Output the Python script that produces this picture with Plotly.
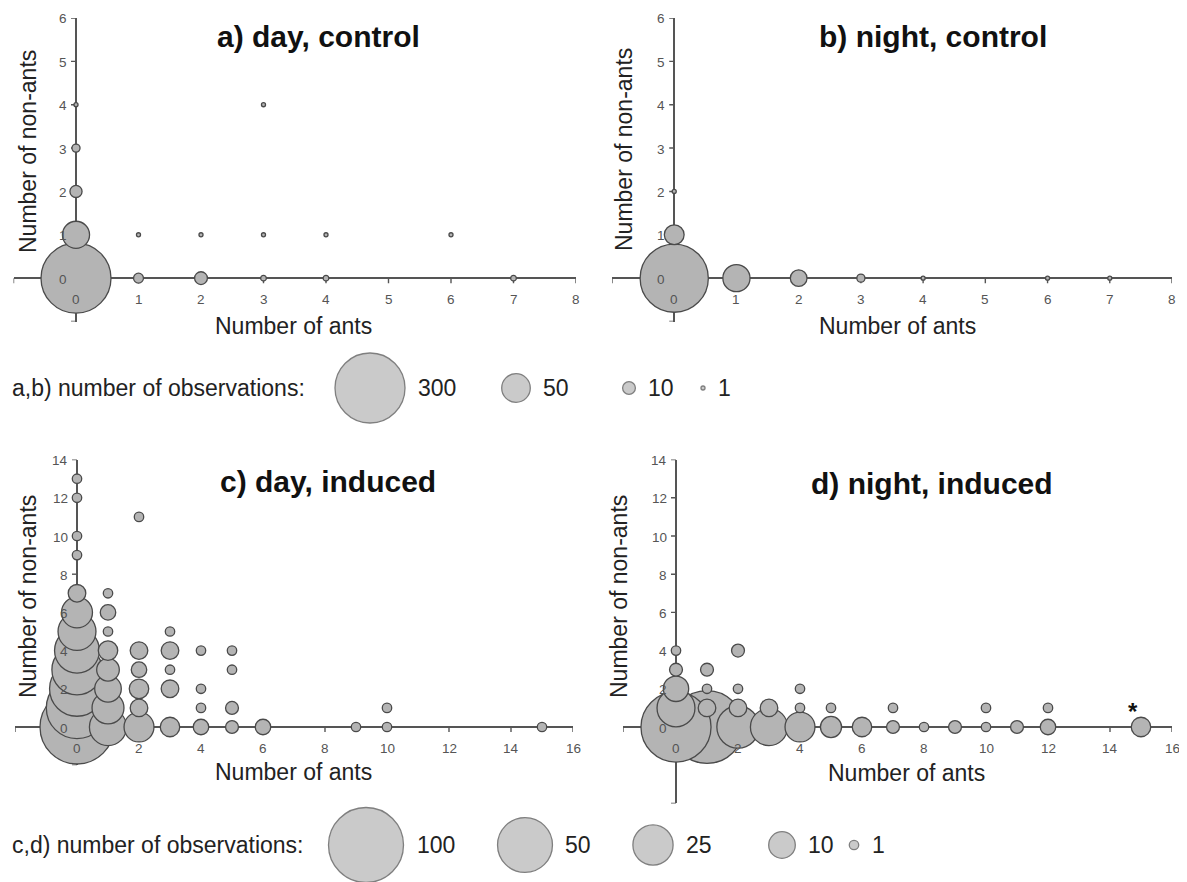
import plotly.graph_objects as go

SCREEN_W, SCREEN_H = 1187, 882
OFF = 8                      # default page body margin of the html page
W, H = SCREEN_W - OFF, SCREEN_H - OFF

# ---------------- data (ants, non-ants, number of observations) ----------------
A_ANTS    = [0, 0, 0, 0, 0, 1, 2, 3, 4, 7, 1, 2, 3, 4, 6, 3]
A_NONANTS = [0, 1, 2, 3, 4, 0, 0, 0, 0, 0, 1, 1, 1, 1, 1, 4]
A_OBS     = [300, 45, 9, 4, 1, 6, 10, 2, 2, 2, 1, 1, 1, 1, 1, 1]

B_ANTS    = [0, 0, 0, 1, 2, 3, 4, 6, 7]
B_NONANTS = [0, 1, 2, 0, 0, 0, 0, 0, 0]
B_OBS     = [285, 24, 1, 45, 17, 4, 1, 1, 1]

C_ANTS    = [0, 0, 0, 0, 0, 0, 0, 0, 0, 0, 0, 0,
             1, 1, 1, 1, 1, 1, 1, 1,
             2, 2, 2, 2, 2, 2,
             3, 3, 3, 3, 3,
             4, 4, 4, 4,
             5, 5, 5, 5,
             6, 9, 10, 10, 15]
C_NONANTS = [0, 1, 2, 3, 4, 5, 6, 7, 9, 10, 12, 13,
             0, 1, 2, 3, 4, 5, 6, 7,
             0, 1, 2, 3, 4, 11,
             0, 2, 3, 4, 5,
             0, 1, 2, 4,
             0, 1, 3, 4,
             0, 0, 0, 1, 0]
C_OBS     = [97, 64, 50, 41, 32, 22, 14, 4, 1, 1, 1, 1,
             21, 15, 10, 7, 5, 1, 3, 1,
             13, 4, 5, 3, 4, 1,
             5, 4, 1, 4, 1,
             3, 1, 1, 1,
             2, 2, 1, 1,
             3, 1, 1, 1, 1]

D_ANTS    = [0, 0, 0, 0, 0, 1, 1, 1, 1, 2, 2, 2, 2, 3, 3, 4, 4, 4, 5, 5,
             6, 7, 7, 8, 9, 10, 10, 11, 12, 12, 15]
D_NONANTS = [0, 1, 2, 3, 4, 0, 1, 2, 3, 0, 1, 2, 4, 0, 1, 0, 1, 2, 0, 1,
             0, 0, 1, 0, 0, 0, 1, 0, 0, 1, 0]
D_OBS     = [86, 22, 9, 2, 1, 94, 4, 1, 2, 28, 4, 1, 2, 21, 4, 13, 1, 1, 6, 1,
             5, 2, 1, 1, 2, 1, 1, 2, 3, 1, 5]

AB_XTICKS = [0, 1, 2, 3, 4, 5, 6, 7, 8]
AB_YTICKS = [0, 1, 2, 3, 4, 5, 6]
CD_XTICKS = [0, 2, 4, 6, 8, 10, 12, 14, 16]
CD_YTICKS = [0, 2, 4, 6, 8, 10, 12, 14]

LEG_AB_VALUES = [300, 50, 10, 1]
LEG_CD_VALUES = [100, 50, 25, 10, 1]

TITLES = ["a) day, control", "b) night, control", "c) day, induced", "d) night, induced"]
XTITLE = "Number of ants"
YTITLE = "Number of non-ants"
LEG_AB_TEXT = "a,b) number of observations:"
LEG_CD_TEXT = "c,d) number of observations:"

# ---------------- styling / layout ----------------
FILL = "#b4b4b4"
EDGE = "#4a4a4a"
AXC = "#555555"
FONT = "Arial, Liberation Sans, sans-serif"


def size_ab(vals):
    return [70.0 * (v / 300.0) ** 0.5 for v in vals]


def size_cd(vals):
    return [75.0 * (v / 100.0) ** 0.45 for v in vals]


def px(sx):      # screen x -> figure x (pixels)
    return sx - OFF


def py(sy):      # screen y -> figure y (pixels)
    return sy - OFF


# panel geometry in screen pixels: x-left, x-right, y-top, y-bottom, ranges
PANELS = [
    dict(xs=(13.5, 576), ys=(18, 321.5), xr=(-1, 8), yr=(-1, 6)),
    dict(xs=(612, 1172), ys=(18, 321.5), xr=(-1, 8), yr=(-1, 6)),
    dict(xs=(15, 573), ys=(459.6, 765.2), xr=(-2, 16), yr=(-2, 14)),
    dict(xs=(623.3, 1172), ys=(459.6, 803.4), xr=(-1.7, 16), yr=(-4, 14)),
]
TITLE_POS = [(318, 37), (933, 37), (328, 481), (932, 483)]
XTITLE_POS = [(293, 326), (897, 326), (293, 772), (906, 773)]
YTITLE_POS = [(28, 152), (624, 150), (28, 597), (619, 597)]

data_sets = [
    (A_ANTS, A_NONANTS, A_OBS, size_ab, AB_XTICKS, AB_YTICKS),
    (B_ANTS, B_NONANTS, B_OBS, size_ab, AB_XTICKS, AB_YTICKS),
    (C_ANTS, C_NONANTS, C_OBS, size_cd, CD_XTICKS, CD_YTICKS),
    (D_ANTS, D_NONANTS, D_OBS, size_cd, CD_XTICKS, CD_YTICKS),
]

fig = go.Figure()
layout = dict(width=W, height=H, margin=dict(l=0, r=0, t=0, b=0), autosize=False,
              paper_bgcolor="white", plot_bgcolor="rgba(0,0,0,0)", showlegend=False,
              font=dict(family=FONT))
annotations = []
shapes = []


def paper(sx, sy):
    return px(sx) / W, 1 - py(sy) / H


TICKFONT = dict(size=13.5, color="#555", family=FONT)

for i, (p, ds) in enumerate(zip(PANELS, data_sets)):
    n = i + 1
    xa = "xaxis" if n == 1 else f"xaxis{n}"
    ya = "yaxis" if n == 1 else f"yaxis{n}"
    xr_ = "x" if n == 1 else f"x{n}"
    yr_ = "y" if n == 1 else f"y{n}"
    x0d, y1d = paper(p["xs"][0], p["ys"][0])
    x1d, y0d = paper(p["xs"][1], p["ys"][1])
    layout[xa] = dict(domain=[x0d, x1d], range=list(p["xr"]),
                      anchor=yr_, showgrid=False, showticklabels=False, ticks="",
                      showline=False, zeroline=True, zerolinecolor=AXC, zerolinewidth=1.6,
                      fixedrange=True)
    layout[ya] = dict(domain=[y0d, y1d], range=list(p["yr"]),
                      anchor=xr_, showgrid=False, showticklabels=False, ticks="",
                      showline=False, zeroline=True, zerolinecolor=AXC, zerolinewidth=1.6,
                      fixedrange=True)

    xs, ys, obs, sfun, xt, yt = ds
    order = sorted(range(len(obs)), key=lambda k: -obs[k])
    fig.add_trace(go.Scatter(
        x=[xs[k] for k in order], y=[ys[k] for k in order], mode="markers",
        xaxis=xr_, yaxis=yr_, cliponaxis=False, hoverinfo="skip",
        marker=dict(size=sfun([obs[k] for k in order]), sizemode="diameter",
                    color=FILL, line=dict(color=EDGE, width=1.3), opacity=1),
    ))

    # tick marks (including axis ends), drawn beneath the bubbles
    xmarks = ([p["xr"][0]] if p["xr"][0] not in xt else []) + xt
    ymarks = ([p["yr"][0]] if p["yr"][0] not in yt else []) + yt
    for t in xmarks:
        shapes.append(dict(type="line", xref=xr_, yref=yr_, ysizemode="pixel", yanchor=0,
                           x0=t, x1=t, y0=0, y1=-5, layer="below",
                           line=dict(color=AXC, width=1.4)))
    for t in ymarks:
        shapes.append(dict(type="line", xref=xr_, yref=yr_, xsizemode="pixel", xanchor=0,
                           y0=t, y1=t, x0=-5, x1=0, layer="below",
                           line=dict(color=AXC, width=1.4)))
    # tick labels
    for t in xt:
        annotations.append(dict(xref=xr_, yref=yr_, x=t, y=0, yshift=-21, text=str(t),
                                showarrow=False, borderpad=0, font=TICKFONT))
    for t in yt:
        annotations.append(dict(xref=xr_, yref=yr_, x=0, y=t, xshift=-8, yshift=-1,
                                xanchor="right", borderpad=0,
                                text=str(t), showarrow=False, font=TICKFONT))
    # titles
    tx, ty = paper(*TITLE_POS[i])
    annotations.append(dict(xref="paper", yref="paper", x=tx, y=ty,
                            text=f"<b>{TITLES[i]}</b>", showarrow=False,
                            xanchor="center", yanchor="middle",
                            font=dict(size=30, color="#111", family=FONT)))
    ax_, ay_ = paper(*XTITLE_POS[i])
    annotations.append(dict(xref="paper", yref="paper", x=ax_, y=ay_,
                            text=XTITLE, showarrow=False, xanchor="center", yanchor="middle",
                            font=dict(size=23, color="#222", family=FONT)))
    bx_, by_ = paper(*YTITLE_POS[i])
    annotations.append(dict(xref="paper", yref="paper", x=bx_, y=by_,
                            text=YTITLE, showarrow=False, textangle=-90,
                            xanchor="center", yanchor="middle",
                            font=dict(size=23, color="#222", family=FONT)))

# asterisk on panel d
annotations.append(dict(xref="x4", yref="y4", x=15, y=0, xshift=-8, yshift=16,
                        text="<b>*</b>", showarrow=False,
                        font=dict(size=24, color="#111", family=FONT)))

# ---------------- size legends (overlay axis in screen-pixel units) ----------------
layout["xaxis5"] = dict(domain=[0, 1], range=[OFF, OFF + W], anchor="y5", visible=False,
                        fixedrange=True)
layout["yaxis5"] = dict(domain=[0, 1], range=[OFF + H, OFF], anchor="x5", visible=False,
                        fixedrange=True)

LEG_AB_CX = [370, 516, 629, 703]
LEG_AB_CY = 388
LEG_CD_CX = [366, 525, 653, 782, 854]
LEG_CD_CY = 845

for vals, cxs, cy, sfun, label in [
        (LEG_AB_VALUES, LEG_AB_CX, LEG_AB_CY, size_ab, LEG_AB_TEXT),
        (LEG_CD_VALUES, LEG_CD_CX, LEG_CD_CY, size_cd, LEG_CD_TEXT)]:
    sizes = sfun(vals)
    fig.add_trace(go.Scatter(
        x=cxs, y=[cy] * len(cxs), mode="markers", xaxis="x5", yaxis="y5",
        cliponaxis=False, hoverinfo="skip",
        marker=dict(size=sizes, sizemode="diameter", color=FILL,
                    line=dict(color=EDGE, width=1.3))))
    annotations.append(dict(xref="x5", yref="y5", x=10, y=cy, text=label, showarrow=False,
                            xanchor="left", yanchor="middle",
                            font=dict(size=23, color="#222", family=FONT)))
    for v, cx, s in zip(vals, cxs, sizes):
        annotations.append(dict(xref="x5", yref="y5", x=cx + s / 2 + 11, y=cy, text=str(v),
                                showarrow=False, xanchor="left", yanchor="middle",
                                font=dict(size=23, color="#222", family=FONT)))

layout["annotations"] = annotations
layout["shapes"] = shapes
fig.update_layout(**layout)
fig.write_html("out.html")
